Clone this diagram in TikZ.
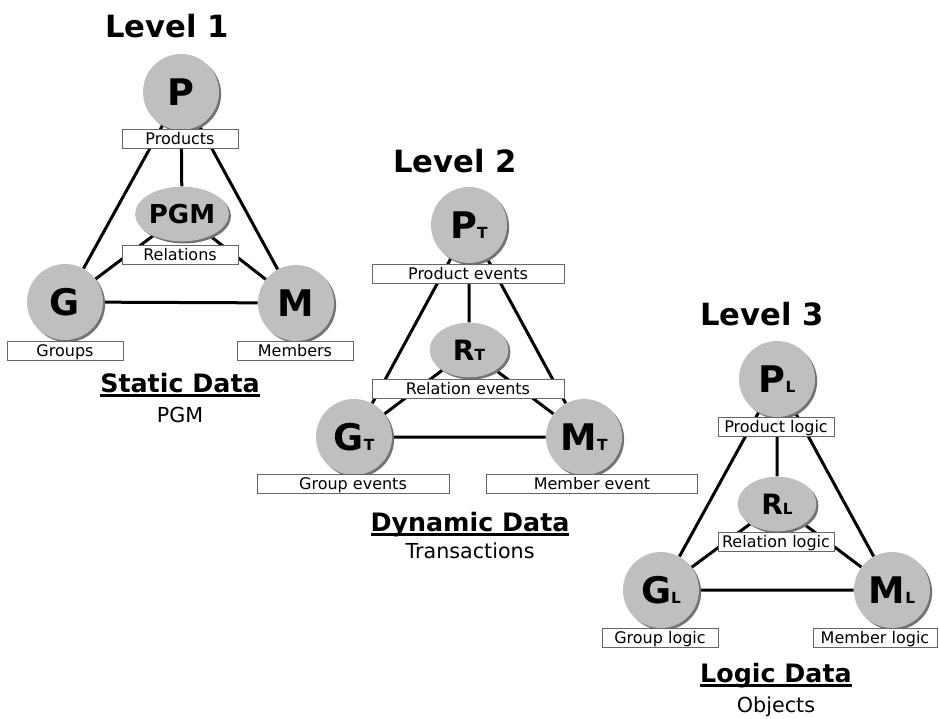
\documentclass[tikz,border=0pt]{standalone}
\usepackage{fontspec}
\setmainfont{DejaVu Sans}
\usetikzlibrary{positioning,shapes,shadows,backgrounds}

\newcommand\lvlsub[1]{{\fontsize{11.5}{12}\selectfont #1}}
\newcommand\titleline[1]{\setbox0\hbox{#1}\rlap{\rule[-3.5pt]{\wd0}{1.8pt}}\box0}

\begin{document}
\begin{tikzpicture}[x=0.75pt, y=-0.75pt,
        entity/.style={circle, fill=black!25, minimum size=57pt, inner sep=0pt,
                       font=\fontsize{27.5}{28}\selectfont\bfseries,
                       drop shadow={shadow xshift=1.6pt, shadow yshift=-1.6pt, fill=black!55, opacity=1}},
        relation/.style={ellipse, fill=black!25, minimum width=59pt, minimum height=41pt, inner sep=0pt,
                         font=\fontsize{21}{22}\selectfont\bfseries,
                         drop shadow={shadow xshift=1.6pt, shadow yshift=-1.6pt, fill=black!55, opacity=1}},
        tag/.style={draw=black!60, fill=white, minimum height=14.25pt, inner sep=0pt,
                    text height=8.7pt, text depth=0pt, font=\fontsize{12}{12}\selectfont},
        level/.style={font=\fontsize{23}{24}\selectfont\bfseries, inner sep=0pt, anchor=base},
        data/.style={font=\fontsize{19}{20}\selectfont\bfseries, inner sep=0pt, anchor=base},
        kind/.style={font=\fontsize{15.5}{16}\selectfont, inner sep=0pt, anchor=base},
        link/.style={line width=2.25pt}]
    \useasboundingbox (0,0) rectangle (939,718);

    \node[level] (level1) at (167,37) {Level 1};
    \node[entity] (p1) at (181,92) {P};
    \node[tag, minimum width=87pt] (p1tag) at (180,139) {Products};
    \node[relation, font=\fontsize{19.5}{20}\selectfont\bfseries] (r1) at (182,214) {PGM};
    \node[tag, minimum width=87pt] (r1tag) at (180,255) {Relations};
    \node[entity] (g1) at (65,302) {G};
    \node[tag, minimum width=87pt] (g1tag) at (65,351) {Groups};
    \node[entity] (m1) at (296,303) {M};
    \node[tag, minimum width=87pt] (m1tag) at (295,351) {Members};
    \node[data] (data1) at (180,392) {\titleline{Static Data}};
    \node[kind] (kind1) at (180,422) {PGM};

    \node[level] (level2) at (455,172) {Level 2};
    \node[entity] (p2) at (469,225) {P\lvlsub{T}};
    \node[tag, minimum width=144pt] (p2tag) at (468,274) {Product events};
    \node[relation] (r2) at (469,350) {R\lvlsub{T}};
    \node[tag, minimum width=144pt] (r2tag) at (468,389) {Relation events};
    \node[entity] (g2) at (354,437) {G\lvlsub{T}};
    \node[tag, minimum width=144pt] (g2tag) at (353,484) {Group events};
    \node[entity] (m2) at (584,437) {M\lvlsub{T}};
    \node[tag, minimum width=158pt] (m2tag) at (592,484) {Member event};
    \node[data] (data2) at (470,531) {\titleline{Dynamic Data}};
    \node[kind] (kind2) at (470,558) {Transactions};

    \node[level] (level3) at (762,325) {Level 3};
    \node[entity] (p3) at (777,379) {P\lvlsub{L}};
    \node[tag, minimum width=87pt] (p3tag) at (776,427) {Product logic};
    \node[relation] (r3) at (777,504) {R\lvlsub{L}};
    \node[tag, minimum width=87pt] (r3tag) at (776,542) {Relation logic};
    \node[entity] (g3) at (661,590) {G\lvlsub{L}};
    \node[tag, minimum width=87pt] (g3tag) at (660,638) {Group logic};
    \node[entity] (m3) at (892,590) {M\lvlsub{L}};
    \node[tag, minimum width=93pt] (m3tag) at (875,638) {Member logic};
    \node[data] (data3) at (776,682) {\titleline{Logic Data}};
    \node[kind] (kind3) at (776,712) {Objects};

    \begin{pgfonlayer}{background}
        \foreach \n in {1,2,3} {
            \draw[link] (p\n) -- (g\n) -- (m\n) -- (p\n)
                        (p\n) -- (r\n) (g\n) -- (r\n) -- (m\n);
        }
    \end{pgfonlayer}
\end{tikzpicture}
\end{document}
